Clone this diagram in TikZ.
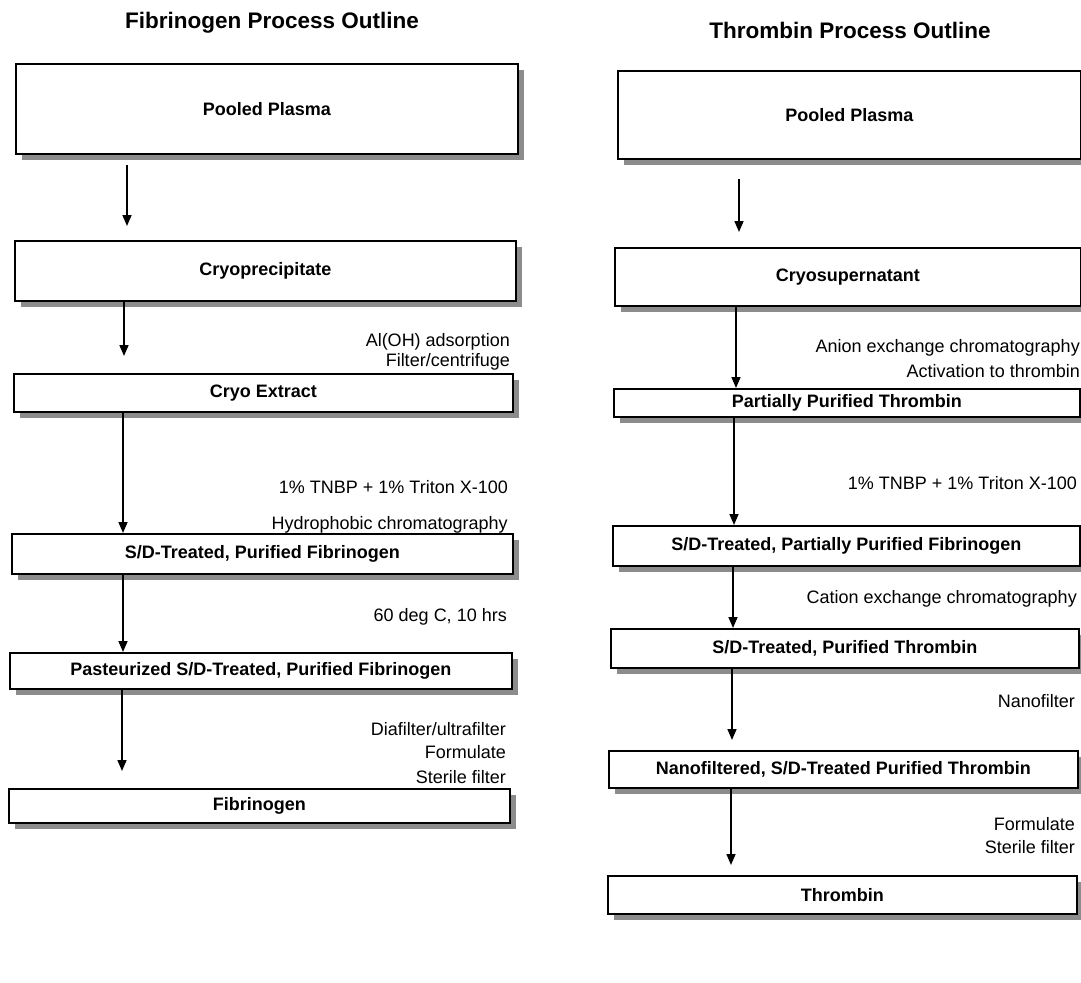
\documentclass[tikz,border=0pt]{standalone}
\usepackage{fontspec}
\setmainfont{Liberation Sans}
\usetikzlibrary{arrows.meta,shadows}
\begin{document}
\begin{tikzpicture}[x=1pt,y=-1pt,
  box/.style={draw=black,line width=1.6pt,fill=white,anchor=north west,inner sep=0pt,
    font=\fontsize{18}{21}\selectfont\bfseries,
    drop shadow={shadow xshift=6pt,shadow yshift=-6pt,fill=black!45,opacity=1}},
  lbl/.style={anchor=east,inner sep=0pt,font=\fontsize{18}{21}\selectfont},
  ttl/.style={inner sep=0pt,font=\fontsize{22.5}{26}\selectfont\bfseries},
  arr/.style={line width=1.6pt,-{Triangle[length=11pt,width=9pt]}}]
\useasboundingbox (0,0) rectangle (1081,982);
\node[ttl] (t1) at (272,23) {Fibrinogen Process Outline};
\node[ttl] (t2) at (850,30) {Thrombin Process Outline};
% left column
\node[box,minimum width=502pt,minimum height=90pt] (a1) at (15,63) {Pooled Plasma};
\node[box,minimum width=501pt,minimum height=60pt] (a2) at (14,240) {Cryoprecipitate};
\node[box,minimum width=499pt,minimum height=38pt] (a3) at (13,373) {Cryo Extract};
\node[box,minimum width=501pt,minimum height=40pt] (a4) at (11,533) {S/D-Treated, Purified Fibrinogen};
\node[box,minimum width=502pt,minimum height=36pt] (a5) at (9,652) {Pasteurized S/D-Treated, Purified Fibrinogen};
\node[box,minimum width=501pt,minimum height=34pt] (a6) at (8,788) {Fibrinogen};
\draw[arr,shorten >=14pt,shorten <=10pt] ([xshift=112pt]a1.south west) -- ([xshift=112pt]a1.south west |- a2.north);
\draw[arr,shorten >=17pt] ([xshift=110pt]a2.south west) -- ([xshift=110pt]a2.south west |- a3.north);
\draw[arr] ([xshift=110pt]a3.south west) -- ([xshift=110pt]a3.south west |- a4.north);
\draw[arr] ([xshift=112pt]a4.south west) -- ([xshift=112pt]a4.south west |- a5.north);
\draw[arr,shorten >=17pt] ([xshift=113pt]a5.south west) -- ([xshift=113pt]a5.south west |- a6.north);
\node[lbl] (l1) at (510,342) {Al(OH) adsorption};
\node[lbl] (l2) at (510,362) {Filter/centrifuge};
\node[lbl] (l3) at (508,487) {1\% TNBP + 1\% Triton X-100};
\node[lbl] (l4) at (508,525) {Hydrophobic chromatography};
\node[lbl] (l5) at (507,617) {60 deg C, 10 hrs};
\node[lbl] (l6) at (506,729) {Diafilter/ultrafilter};
\node[lbl] (l7) at (506,752) {Formulate};
\node[lbl] (l8) at (506,777) {Sterile filter};
% right column
\node[box,minimum width=463pt,minimum height=88pt] (b1) at (617,70) {Pooled Plasma};
\node[box,minimum width=466pt,minimum height=58pt] (b2) at (614,247) {Cryosupernatant};
\node[box,minimum width=466pt,minimum height=28pt] (b3) at (613,388) {Partially Purified Thrombin};
\node[box,minimum width=467pt,minimum height=40pt] (b4) at (612,525) {S/D-Treated, Partially Purified Fibrinogen};
\node[box,minimum width=468pt,minimum height=39pt] (b5) at (610,628) {S/D-Treated, Purified Thrombin};
\node[box,minimum width=469pt,minimum height=37pt] (b6) at (608,750) {Nanofiltered, S/D-Treated Purified Thrombin};
\node[box,minimum width=469pt,minimum height=38pt] (b7) at (607,875) {Thrombin};
\draw[arr,shorten >=15pt,shorten <=19pt] ([xshift=122pt]b1.south west) -- ([xshift=122pt]b1.south west |- b2.north);
\draw[arr] ([xshift=122pt]b2.south west) -- ([xshift=122pt]b2.south west |- b3.north);
\draw[arr] ([xshift=121pt]b3.south west) -- ([xshift=121pt]b3.south west |- b4.north);
\draw[arr] ([xshift=121pt]b4.south west) -- ([xshift=121pt]b4.south west |- b5.north);
\draw[arr,shorten >=10pt] ([xshift=122pt]b5.south west) -- ([xshift=122pt]b5.south west |- b6.north);
\draw[arr,shorten >=10pt] ([xshift=123pt]b6.south west) -- ([xshift=123pt]b6.south west |- b7.north);
\node[lbl] (r1) at (1080,348) {Anion exchange chromatography};
\node[lbl] (r2) at (1080,371) {Activation to thrombin};
\node[lbl] (r3) at (1077,483) {1\% TNBP + 1\% Triton X-100};
\node[lbl] (r4) at (1077,599) {Cation exchange chromatography};
\node[lbl] (r5) at (1075,701) {Nanofilter};
\node[lbl] (r6) at (1075,824) {Formulate};
\node[lbl] (r7) at (1075,847) {Sterile filter};
\end{tikzpicture}
\end{document}
